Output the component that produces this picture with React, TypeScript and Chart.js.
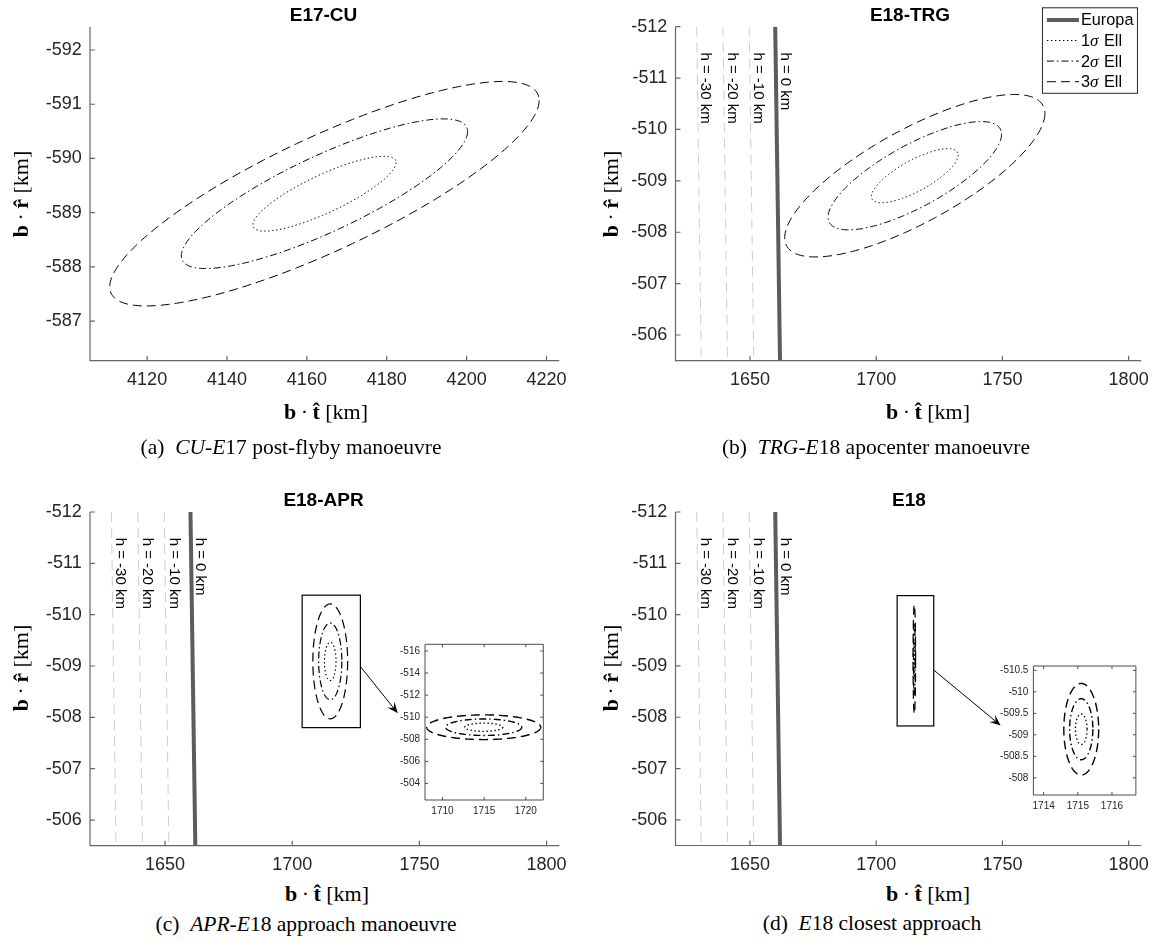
import React, { useEffect, useRef } from 'react';
import { Chart, registerables } from 'chart.js';

Chart.register(...registerables);

// ---------------- data ----------------
const sigmaLevels = [1, 2, 3];
const sigmaLabels = ['1σ Ell', '2σ Ell', '3σ Ell'];

// covariance ellipses: centre (t, r), 1-sigma half extents (t, r), correlation
const cuCentre = [4164.4, -589.35];
const cuSigma = [17.92, 0.69];
const cuRho = -0.83;

const trgCentre = [1715.3, -509.1];
const trgSigma = [17.18, 0.527];
const trgRho = -0.765;

const aprCentre = [1714.95, -509.09];
const aprSigma = [2.28, 0.373];
const aprRho = 0;

const caCentre = [1715.1, -509.13];
const caSigma = [0.17, 0.355];
const caRho = 0;

// Europa surface and altitude lines
const altitudes = [0, -10, -20, -30];
const altTopT = [1660.0, 1649.7, 1639.3, 1628.9];
const altBottomT = [1661.9, 1651.5, 1641.1, 1630.7];
const altLabelT = [1663.8, 1653.4, 1643.0, 1632.4];
const altLabelR = -511.5;
const surfR = [-512, -505.5];

// ticks
const cuTicksT = [4120, 4140, 4160, 4180, 4200, 4220];
const cuTicksR = [-592, -591, -590, -589, -588, -587];
const e18TicksT = [1650, 1700, 1750, 1800];
const e18TicksR = [-512, -511, -510, -509, -508, -507, -506];
const aprInsetTicksT = [1710, 1715, 1720];
const aprInsetTicksR = [-516, -514, -512, -510, -508, -506, -504];
const caInsetTicksT = [1714, 1715, 1716];
const caInsetTicksR = [-510.5, -510, -509.5, -509, -508.5, -508];

// axis ranges
const cuRangeT = [4105.7, 4223.2];
const cuRangeR = [-592.43, -586.27];
const e18RangeT = [1620.5, 1805];
const e18RangeR = [-512, -505.5];
const aprInsetRangeT = [1707.9, 1722.1];
const aprInsetRangeR = [-516.6, -502.5];
const caInsetRangeT = [1713.7, 1716.7];
const caInsetRangeR = [-510.6, -507.6];

// zoom boxes and arrows (data coordinates of main axes)
const aprZoomBoxT = [1703.9, 1726.8];
const aprZoomBoxR = [-510.38, -507.8];
const caZoomBoxT = [1708.3, 1722.8];
const caZoomBoxR = [-510.37, -507.83];
const aprArrowT = [1726.8, 1741.5];
const aprArrowR = [-508.99, -508.08];
const caArrowT = [1722.8, 1749.3];
const caArrowR = [-508.92, -507.84];

// ---------------- styles ----------------
const SANS = '"Liberation Sans", Arial, Helvetica, sans-serif';
const SERIF = '"Liberation Serif", "Times New Roman", serif';
const sigmaDash = [
  [1.4, 2.6],
  [7, 3, 1.5, 3],
  [9, 5],
];

function ellipsePoints(centre: number[], sigma: number[], rho: number, k: number) {
  const pts: { x: number; y: number }[] = [];
  const s = Math.sqrt(1 - rho * rho);
  const n = 240;
  for (let i = 0; i <= n; i++) {
    const a = (i / n) * 2 * Math.PI;
    pts.push({
      x: centre[0] + k * sigma[0] * Math.cos(a),
      y: centre[1] + k * sigma[1] * (rho * Math.cos(a) + s * Math.sin(a)),
    });
  }
  return pts;
}

function ellipseDatasets(centre: number[], sigma: number[], rho: number, width: number) {
  return sigmaLevels.map((k, i) => ({
    label: sigmaLabels[i],
    data: ellipsePoints(centre, sigma, rho, k),
    showLine: true,
    borderColor: '#000000',
    borderWidth: width,
    borderDash: sigmaDash[i],
    pointRadius: 0,
    fill: false,
  }));
}

function surfaceDatasets() {
  return altitudes.map((h, i) => ({
    label: h === 0 ? 'Europa' : `h = ${h} km`,
    data: [
      { x: altTopT[i], y: surfR[0] },
      { x: altBottomT[i], y: surfR[1] },
    ],
    showLine: true,
    borderColor: h === 0 ? '#5c5c5c' : '#cdcdcd',
    borderWidth: h === 0 ? 4 : 1,
    borderDash: h === 0 ? [] : [10, 6],
    pointRadius: 0,
    fill: false,
  }));
}

type Rect = { x: number; y: number; w: number; h: number };
type Area = { l: number; t: number; r: number; b: number };

type Spec = {
  canvas: Rect;
  area: Area;
  rangeT: number[];
  rangeR: number[];
  ticksT: number[];
  ticksR: number[];
  fontSize: number;
  padX: number;
  padY: number;
  box: boolean;
  tickLen: number;
  axisColor: string;
  axisWidth: number;
  datasets: any[];
  zoomBox?: { t: number[]; r: number[] };
  arrow?: { t: number[]; r: number[] };
  altLabels?: boolean;
  legend?: boolean;
};

function makePlugins(spec: Spec) {
  return [
    {
      id: 'matlabBackground',
      beforeDraw(chart: any) {
        if (!spec.box) return;
        const { ctx, chartArea } = chart;
        ctx.save();
        ctx.fillStyle = '#ffffff';
        ctx.fillRect(chartArea.left, chartArea.top, chartArea.right - chartArea.left, chartArea.bottom - chartArea.top);
        ctx.restore();
      },
    },
    {
      id: 'matlabOverlay',
      afterDatasetsDraw(chart: any) {
        const { ctx } = chart;
        const xs = chart.scales.x;
        const ys = chart.scales.y;
        ctx.save();

        // zoom box
        if (spec.zoomBox) {
          const x0 = xs.getPixelForValue(spec.zoomBox.t[0]);
          const x1 = xs.getPixelForValue(spec.zoomBox.t[1]);
          const y0 = ys.getPixelForValue(spec.zoomBox.r[0]);
          const y1 = ys.getPixelForValue(spec.zoomBox.r[1]);
          ctx.strokeStyle = '#000';
          ctx.lineWidth = 1.2;
          ctx.setLineDash([]);
          ctx.strokeRect(Math.min(x0, x1), Math.min(y0, y1), Math.abs(x1 - x0), Math.abs(y1 - y0));
        }
        // arrow
        if (spec.arrow) {
          const x0 = xs.getPixelForValue(spec.arrow.t[0]);
          const y0 = ys.getPixelForValue(spec.arrow.r[0]);
          const x1 = xs.getPixelForValue(spec.arrow.t[1]);
          const y1 = ys.getPixelForValue(spec.arrow.r[1]);
          const ang = Math.atan2(y1 - y0, x1 - x0);
          const L = 11;
          const W = 4.5;
          const c = Math.cos(ang);
          const s = Math.sin(ang);
          ctx.strokeStyle = '#000';
          ctx.fillStyle = '#000';
          ctx.lineWidth = 1;
          ctx.beginPath();
          ctx.moveTo(x0, y0);
          ctx.lineTo(x1 - L * 0.6 * c, y1 - L * 0.6 * s);
          ctx.stroke();
          ctx.beginPath();
          ctx.moveTo(x1, y1);
          ctx.lineTo(x1 - L * c + W * s, y1 - L * s - W * c);
          ctx.lineTo(x1 - L * 0.6 * c, y1 - L * 0.6 * s);
          ctx.lineTo(x1 - L * c - W * s, y1 - L * s + W * c);
          ctx.closePath();
          ctx.fill();
        }
        // altitude labels
        if (spec.altLabels) {
          ctx.fillStyle = '#000';
          ctx.font = `15px ${SANS}`;
          ctx.textAlign = 'left';
          ctx.textBaseline = 'middle';
          altitudes.forEach((h, i) => {
            const px = xs.getPixelForValue(altLabelT[i]);
            const py = ys.getPixelForValue(altLabelR);
            ctx.save();
            ctx.translate(px, py);
            ctx.rotate(Math.PI / 2);
            ctx.fillText(`h = ${h} km`, 0, 0);
            ctx.restore();
          });
        }
        ctx.restore();
      },
      afterDraw(chart: any) {
        const { ctx, chartArea } = chart;
        const xs = chart.scales.x;
        const ys = chart.scales.y;
        const { left, top, right, bottom } = chartArea;
        ctx.save();
        ctx.setLineDash([]);
        ctx.strokeStyle = spec.axisColor;
        ctx.lineWidth = spec.axisWidth;
        ctx.beginPath();
        if (spec.box) {
          ctx.rect(left, top, right - left, bottom - top);
        } else {
          ctx.moveTo(left, top);
          ctx.lineTo(left, bottom);
          ctx.lineTo(right, bottom);
        }
        ctx.stroke();
        const tl = spec.tickLen;
        ctx.beginPath();
        xs.ticks.forEach((t: any) => {
          const px = xs.getPixelForValue(t.value);
          ctx.moveTo(px, bottom);
          ctx.lineTo(px, bottom - tl);
          if (spec.box) {
            ctx.moveTo(px, top);
            ctx.lineTo(px, top + tl);
          }
        });
        ys.ticks.forEach((t: any) => {
          const py = ys.getPixelForValue(t.value);
          ctx.moveTo(left, py);
          ctx.lineTo(left + tl, py);
          if (spec.box) {
            ctx.moveTo(right, py);
            ctx.lineTo(right - tl, py);
          }
        });
        ctx.stroke();

        // legend
        if (spec.legend) {
          const items = chart.data.datasets.filter((d: any) => d.label === 'Europa' || sigmaLabels.includes(d.label));
          items.sort((a: any, b: any) => (a.label === 'Europa' ? -1 : b.label === 'Europa' ? 1 : a.label.localeCompare(b.label)));
          const w = 95;
          const h = 85.5;
          const lx = right - 4.3 - w;
          const ly = 7.3;
          ctx.fillStyle = '#fff';
          ctx.fillRect(lx, ly, w, h);
          ctx.strokeStyle = '#262626';
          ctx.lineWidth = 1;
          ctx.strokeRect(lx + 0.5, ly + 0.5, w, h);
          items.forEach((d: any, i: number) => {
            const cy = ly + 12.6 + i * 20.6;
            ctx.setLineDash(d.borderDash || []);
            ctx.strokeStyle = d.borderColor;
            ctx.lineWidth = d.label === 'Europa' ? 4 : 1;
            ctx.beginPath();
            ctx.moveTo(lx + 5, cy);
            ctx.lineTo(lx + 37, cy);
            ctx.stroke();
            ctx.setLineDash([]);
            ctx.fillStyle = '#000';
            ctx.textAlign = 'left';
            ctx.textBaseline = 'middle';
            let x = lx + 39;
            const parts = String(d.label).split('σ');
            ctx.font = `16.3px ${SANS}`;
            ctx.fillText(parts[0], x, cy + 1);
            x += ctx.measureText(parts[0]).width;
            if (parts.length > 1) {
              ctx.font = `italic 17px ${SERIF}`;
              ctx.fillText('σ', x, cy + 1);
              x += ctx.measureText('σ').width + 1;
              ctx.font = `16.3px ${SANS}`;
              ctx.fillText(parts[1], x, cy + 1);
            }
          });
        }
        ctx.restore();
      },
    },
  ];
}

function buildConfig(spec: Spec): any {
  const lx = spec.area.l - spec.canvas.x;
  const tx = spec.area.t - spec.canvas.y;
  const rx = spec.area.r - spec.canvas.x;
  const bx = spec.area.b - spec.canvas.y;
  const tickFont = { family: SANS, size: spec.fontSize };
  return {
    type: 'scatter',
    data: { datasets: spec.datasets },
    options: {
      responsive: false,
      maintainAspectRatio: false,
      animation: false,
      devicePixelRatio: 1,
      layout: { padding: { left: 0, top: tx, right: spec.canvas.w - rx, bottom: 0 } },
      plugins: { legend: { display: false }, tooltip: { enabled: false }, title: { display: false } },
      elements: { point: { radius: 0 }, line: { tension: 0 } },
      scales: {
        x: {
          type: 'linear',
          min: spec.rangeT[0],
          max: spec.rangeT[1],
          grid: { display: false, drawTicks: false, tickLength: 0 },
          border: { display: false },
          ticks: {
            font: tickFont,
            color: '#262626',
            padding: spec.padX,
            autoSkip: false,
            maxRotation: 0,
            minRotation: 0,
            callback: (v: any) => String(v),
          },
          afterBuildTicks: (s: any) => {
            s.ticks = spec.ticksT.map((v) => ({ value: v }));
          },
          afterFit: (s: any) => {
            s.height = spec.canvas.h - bx;
          },
        },
        y: {
          type: 'linear',
          reverse: true,
          min: spec.rangeR[0],
          max: spec.rangeR[1],
          grid: { display: false, drawTicks: false, tickLength: 0 },
          border: { display: false },
          ticks: {
            font: tickFont,
            color: '#262626',
            padding: spec.padY,
            autoSkip: false,
            callback: (v: any) => String(v),
          },
          afterBuildTicks: (s: any) => {
            s.ticks = spec.ticksR.map((v) => ({ value: v }));
          },
          afterFit: (s: any) => {
            s.width = lx;
          },
        },
      },
    },
    plugins: makePlugins(spec),
  };
}

const mainStyle = { fontSize: 18, padX: 9, padY: 8.3, box: false, tickLen: 5, axisColor: '#666666', axisWidth: 1.2 };
const insetStyle = { fontSize: 10, padX: 5.5, padY: 5, box: true, tickLen: 3, axisColor: '#4d4d4d', axisWidth: 1 };

const SPECS: Spec[] = [
  {
    ...mainStyle,
    canvas: { x: 0, y: 0, w: 580, h: 400 },
    area: { l: 90, t: 26.7, r: 559.3, b: 360.7 },
    rangeT: cuRangeT,
    rangeR: cuRangeR,
    ticksT: cuTicksT,
    ticksR: cuTicksR,
    datasets: ellipseDatasets(cuCentre, cuSigma, cuRho, 1),
  },
  {
    ...mainStyle,
    canvas: { x: 580, y: 0, w: 578, h: 400 },
    area: { l: 675.5, t: 26.7, r: 1145, b: 360.7 },
    rangeT: e18RangeT,
    rangeR: e18RangeR,
    ticksT: e18TicksT,
    ticksR: e18TicksR,
    datasets: [...ellipseDatasets(trgCentre, trgSigma, trgRho, 1), ...surfaceDatasets()],
    altLabels: true,
    legend: true,
  },
  {
    ...mainStyle,
    canvas: { x: 0, y: 480, w: 580, h: 400 },
    area: { l: 90, t: 512, r: 559.3, b: 845.7 },
    rangeT: e18RangeT,
    rangeR: e18RangeR,
    ticksT: e18TicksT,
    ticksR: e18TicksR,
    datasets: [...ellipseDatasets(aprCentre, aprSigma, aprRho, 1.2), ...surfaceDatasets()],
    altLabels: true,
    zoomBox: { t: aprZoomBoxT, r: aprZoomBoxR },
    arrow: { t: aprArrowT, r: aprArrowR },
  },
  {
    ...mainStyle,
    canvas: { x: 580, y: 480, w: 578, h: 400 },
    area: { l: 675.5, t: 512, r: 1145, b: 845.5 },
    rangeT: e18RangeT,
    rangeR: e18RangeR,
    ticksT: e18TicksT,
    ticksR: e18TicksR,
    datasets: [...ellipseDatasets(caCentre, caSigma, caRho, 1.2), ...surfaceDatasets()],
    altLabels: true,
    zoomBox: { t: caZoomBoxT, r: caZoomBoxR },
    arrow: { t: caArrowT, r: caArrowR },
  },
  {
    ...insetStyle,
    canvas: { x: 390, y: 632, w: 165, h: 190 },
    area: { l: 425, t: 644.3, r: 543.3, b: 800 },
    rangeT: aprInsetRangeT,
    rangeR: aprInsetRangeR,
    ticksT: aprInsetTicksT,
    ticksR: aprInsetTicksR,
    datasets: ellipseDatasets(aprCentre, aprSigma, aprRho, 1.4),
  },
  {
    ...insetStyle,
    canvas: { x: 995, y: 655, w: 150, h: 170 },
    area: { l: 1033.4, t: 666, r: 1135.9, b: 795 },
    rangeT: caInsetRangeT,
    rangeR: caInsetRangeR,
    ticksT: caInsetTicksT,
    ticksR: caInsetTicksR,
    datasets: ellipseDatasets(caCentre, caSigma, caRho, 1.4),
  },
];

const Txt = ({ x, y, rot, style, children }: any) => (
  <div
    style={{
      position: 'absolute',
      left: x,
      top: y,
      transform: `translate(-50%, -50%)${rot ? ` rotate(${rot}deg)` : ''}`,
      whiteSpace: 'nowrap',
      lineHeight: 1,
      color: '#000',
      ...style,
    }}
  >
    {children}
  </div>
);

const titleStyle = { fontFamily: SANS, fontWeight: 'bold', fontSize: 19 };
const labelStyle = { fontFamily: SERIF, fontSize: 22 };
const capStyle = { fontFamily: SERIF, fontSize: 21.5 };

const XLabel = () => (
  <>
    <b>b</b>
    {'\u2009·\u2009'}
    <b>t&#770;</b> [km]
  </>
);
const YLabel = () => (
  <>
    <b>b</b>
    {'\u2009·\u2009'}
    <b>r&#770;</b> [km]
  </>
);

export default function App() {
  const refs = useRef<(HTMLCanvasElement | null)[]>([]);
  useEffect(() => {
    const charts = SPECS.map((spec, i) => new Chart(refs.current[i] as HTMLCanvasElement, buildConfig(spec)));
    return () => charts.forEach((c) => c.destroy());
  }, []);

  return (
    <div style={{ position: 'absolute', left: 0, top: 0, width: 1158, height: 951, background: '#fff', overflow: 'hidden' }}>
      {SPECS.map((p, i) => (
        <canvas
          key={i}
          ref={(el) => {
            refs.current[i] = el;
          }}
          width={p.canvas.w}
          height={p.canvas.h}
          style={{ position: 'absolute', left: p.canvas.x, top: p.canvas.y, width: p.canvas.w, height: p.canvas.h }}
        />
      ))}

      <Txt x={323.5} y={13.5} style={titleStyle}>E17-CU</Txt>
      <Txt x={910} y={13.5} style={titleStyle}>E18-TRG</Txt>
      <Txt x={323.5} y={498.5} style={titleStyle}>E18-APR</Txt>
      <Txt x={909} y={498.5} style={titleStyle}>E18</Txt>

      <Txt x={326} y={411.5} style={labelStyle}><XLabel /></Txt>
      <Txt x={928} y={411.5} style={labelStyle}><XLabel /></Txt>
      <Txt x={327} y={894} style={labelStyle}><XLabel /></Txt>
      <Txt x={928} y={894} style={labelStyle}><XLabel /></Txt>

      <Txt x={21} y={194} rot={-90} style={labelStyle}><YLabel /></Txt>
      <Txt x={611} y={194} rot={-90} style={labelStyle}><YLabel /></Txt>
      <Txt x={21} y={668} rot={-90} style={labelStyle}><YLabel /></Txt>
      <Txt x={611} y={668} rot={-90} style={labelStyle}><YLabel /></Txt>

      <Txt x={291} y={447.5} style={capStyle}>
        (a)&ensp;<i>CU</i>-<i>E</i>17 post-flyby manoeuvre
      </Txt>
      <Txt x={876} y={447.5} style={capStyle}>
        (b)&ensp;<i>TRG</i>-<i>E</i>18 apocenter manoeuvre
      </Txt>
      <Txt x={306} y={924.5} style={capStyle}>
        (c)&ensp;<i>APR</i>-<i>E</i>18 approach manoeuvre
      </Txt>
      <Txt x={872} y={924} style={capStyle}>
        (d)&ensp;<i>E</i>18 closest approach
      </Txt>
    </div>
  );
}
